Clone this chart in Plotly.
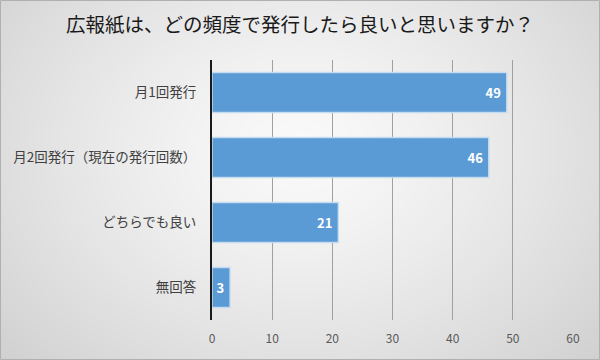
import plotly.graph_objects as go
import numpy as np
import zlib, struct, base64

categories = ["月1回発行", "月2回発行（現在の発行回数）", "どちらでも良い", "無回答"]
values = [49, 46, 21, 3]
x_ticks = [0, 10, 20, 30, 40, 50, 60]

W, H = 600, 360
L, R, T, B = 212, 27, 60, 40
pw, ph = W - L - R, H - T - B

# radial grey gradient background (styling only)
yy, xx = np.mgrid[0:H, 0:W]
d = np.sqrt(((xx - 300) / 300.0) ** 2 + ((yy - 150) / 230.0) ** 2) / np.sqrt(2)
v = np.clip(250 - 44 * d ** 1.3, 0, 255).astype(np.uint8)
rows = b"".join(b"\x00" + bytes(np.repeat(r, 3).tobytes()) for r in v)
def chunk(t, data):
    c = struct.pack(">I", len(data)) + t + data
    return c + struct.pack(">I", zlib.crc32(t + data) & 0xffffffff)
png = b"\x89PNG\r\n\x1a\n" + chunk(b"IHDR", struct.pack(">IIBBBBB", W, H, 8, 2, 0, 0, 0)) \
    + chunk(b"IDAT", zlib.compress(rows, 9)) + chunk(b"IEND", b"")
bg = "data:image/png;base64," + base64.b64encode(png).decode()

font = "Noto Sans CJK JP"

fig = go.Figure(go.Bar(
    y=categories, x=values, orientation="h",
    marker=dict(color="#5B9BD5", line=dict(color="rgba(200,222,242,0.9)", width=1.5)),
    width=0.615,
    text=values, texttemplate="%{x}\u00a0", textposition="inside", insidetextanchor="end",
    textfont=dict(color="white", size=13, family=font, weight="bold"),
    cliponaxis=False,
))

fig.update_layout(
    width=W, height=H,
    margin=dict(l=L, r=R, t=T, b=B, autoexpand=False),
    paper_bgcolor="#e8e8e8", plot_bgcolor="rgba(0,0,0,0)",
    title=dict(text="広報紙は、どの頻度で発行したら良いと思いますか？", x=0.5, xanchor="center",
               y=1 - 25 / H, yanchor="middle", font=dict(size=19.5, color="#1a1a1a", family=font)),
    showlegend=False,
    bargap=0.385,
    images=[dict(source=bg, xref="paper", yref="paper", x=-L / pw, y=1 + T / ph,
                 sizex=W / pw, sizey=H / ph, sizing="stretch", layer="below",
                 xanchor="left", yanchor="top")],
    shapes=[dict(type="rect", xref="paper", yref="paper", x0=-L / pw + 0.5 / pw, x1=1 + (R - 0.5) / pw,
                 y0=-(B - 0.5) / ph, y1=1 + (T - 0.5) / ph, line=dict(color="#b0b0b0", width=1))],
)
fig.update_xaxes(range=[0, 60], tickvals=x_ticks, showgrid=True, gridcolor="#a0a0a0", gridwidth=1,
                 zeroline=False, showline=False, ticks="", ticklabelstandoff=10, automargin=False,
                 tickfont=dict(size=12, color="#595959", family=font), fixedrange=True)
fig.update_yaxes(autorange="reversed", showline=True, linecolor="#1a1a1a", linewidth=2,
                 ticks="", ticklabelstandoff=11, showgrid=False, automargin=False,
                 tickfont=dict(size=13.5, color="#404040", family=font), fixedrange=True)

fig.write_html("out.html", post_script="document.body.style.margin='0';",
               config={"displayModeBar": False})
